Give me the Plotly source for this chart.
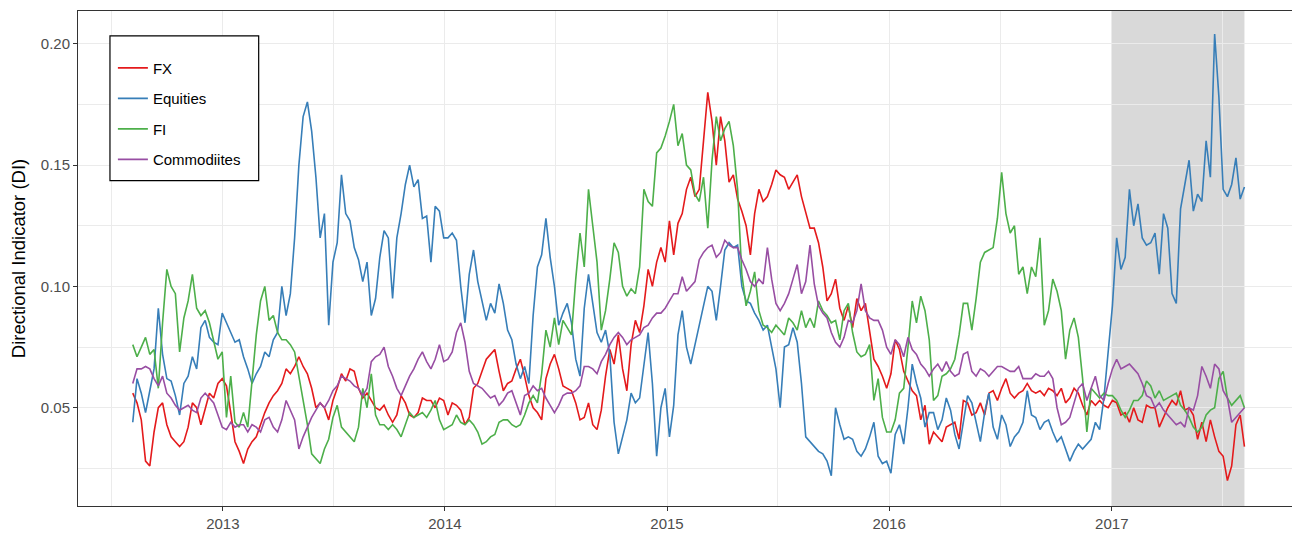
import pandas as pd
import plotly.graph_objects as go

# weekly observations, first week 2012-08-06
START = "2012-08-06"
SHADE_START = "2017-01-01"

fx = [
    0.056, 0.052, 0.045, 0.028, 0.026, 0.040, 0.050, 0.052, 0.043, 0.038, 0.036, 0.034, 0.036, 0.042, 0.052, 0.050,
    0.043, 0.050, 0.056, 0.054, 0.060, 0.062, 0.059, 0.048, 0.036, 0.032, 0.027, 0.033, 0.036, 0.038, 0.043, 0.048,
    0.052, 0.055, 0.057, 0.060, 0.066, 0.064, 0.067, 0.071, 0.067, 0.064, 0.058, 0.050,
    0.052, 0.050, 0.045, 0.053, 0.058, 0.064, 0.061, 0.066, 0.065, 0.058, 0.054, 0.056, 0.053, 0.050, 0.049, 0.051,
    0.047, 0.044, 0.047, 0.055, 0.052, 0.047, 0.046, 0.048, 0.054, 0.053, 0.053, 0.050, 0.054, 0.053,
    0.047, 0.052, 0.051, 0.049, 0.043, 0.046, 0.058, 0.060, 0.065, 0.070, 0.072, 0.074, 0.065, 0.057, 0.060, 0.061,
    0.066, 0.070, 0.063, 0.055, 0.050, 0.048, 0.045, 0.062, 0.068, 0.072, 0.066, 0.059, 0.058,
    0.057, 0.052, 0.045, 0.046, 0.052, 0.043, 0.041, 0.049, 0.063, 0.074, 0.068, 0.080, 0.066, 0.057, 0.076, 0.086,
    0.081, 0.092, 0.107, 0.100, 0.110, 0.116, 0.110, 0.127, 0.113, 0.126, 0.130, 0.140,
    0.145, 0.137, 0.140, 0.160, 0.180, 0.168, 0.150, 0.170, 0.160, 0.143, 0.146, 0.136, 0.131, 0.125, 0.113, 0.130,
    0.140, 0.135, 0.137, 0.142, 0.148, 0.146, 0.145, 0.140, 0.143, 0.146, 0.137, 0.131, 0.124,
    0.124, 0.118, 0.108, 0.094, 0.097, 0.103, 0.091, 0.086, 0.092, 0.083, 0.095, 0.090, 0.093, 0.081, 0.070, 0.067,
    0.063, 0.058, 0.064, 0.078, 0.074, 0.065, 0.061, 0.057, 0.055, 0.045, 0.051, 0.035, 0.040,
    0.038, 0.036, 0.042, 0.043, 0.044, 0.037, 0.053, 0.052, 0.047, 0.048, 0.052, 0.047, 0.056, 0.057, 0.053, 0.058,
    0.062, 0.056, 0.054, 0.056, 0.057, 0.060, 0.057, 0.056, 0.057, 0.055, 0.058, 0.057,
    0.055, 0.058, 0.052, 0.054, 0.058, 0.056, 0.051, 0.047, 0.053, 0.051, 0.053, 0.051, 0.050, 0.053, 0.052, 0.047,
    0.048, 0.044, 0.050, 0.045, 0.044, 0.051, 0.050, 0.050, 0.042, 0.046, 0.050, 0.053, 0.051,
    0.057, 0.049, 0.050, 0.047, 0.037, 0.044, 0.036, 0.045, 0.038, 0.032, 0.030, 0.020, 0.026, 0.043, 0.047, 0.034,
]

equities = [
    0.044, 0.062, 0.056, 0.048, 0.057, 0.066, 0.091, 0.072, 0.062, 0.061, 0.055, 0.047, 0.060, 0.063, 0.071, 0.066,
    0.083, 0.086, 0.079, 0.077, 0.076, 0.089, 0.085, 0.081, 0.077, 0.078, 0.071, 0.066, 0.060, 0.064, 0.067, 0.073,
    0.071, 0.078, 0.081, 0.100, 0.088, 0.097, 0.120, 0.150, 0.170, 0.176, 0.164, 0.145, 0.120,
    0.130, 0.084, 0.110, 0.118, 0.146, 0.130, 0.127, 0.116, 0.111, 0.102, 0.110, 0.088, 0.095, 0.112, 0.123, 0.120,
    0.095, 0.120, 0.130, 0.142, 0.150, 0.141, 0.144, 0.128, 0.129, 0.110, 0.133, 0.131, 0.120,
    0.120, 0.122, 0.119, 0.100, 0.085, 0.105, 0.115, 0.102, 0.094, 0.086, 0.093, 0.089, 0.101, 0.093, 0.082, 0.078,
    0.068, 0.062, 0.067, 0.060, 0.088, 0.108, 0.113, 0.128, 0.112, 0.100, 0.084, 0.089, 0.093,
    0.085, 0.070, 0.063, 0.091, 0.105, 0.093, 0.081, 0.077, 0.082, 0.072, 0.044, 0.031, 0.038, 0.045, 0.056, 0.052,
    0.054, 0.068, 0.081, 0.060, 0.030, 0.050, 0.058, 0.038, 0.051, 0.080, 0.090, 0.075,
    0.068, 0.076, 0.084, 0.092, 0.100, 0.098, 0.086, 0.100, 0.115, 0.118, 0.116, 0.117, 0.100, 0.094, 0.093, 0.089,
    0.086, 0.082, 0.084, 0.075, 0.066, 0.050, 0.075, 0.076, 0.083, 0.077, 0.060, 0.038, 0.036,
    0.034, 0.032, 0.031, 0.028, 0.022, 0.050, 0.043, 0.037, 0.038, 0.037, 0.032, 0.030, 0.033, 0.038, 0.044, 0.030,
    0.027, 0.028, 0.023, 0.039, 0.043, 0.035, 0.050, 0.068, 0.060, 0.054, 0.042, 0.048, 0.048,
    0.041, 0.045, 0.054, 0.049, 0.039, 0.033, 0.044, 0.055, 0.052, 0.044, 0.036, 0.048, 0.056, 0.042, 0.037, 0.047,
    0.043, 0.034, 0.038, 0.040, 0.044, 0.057, 0.047, 0.046, 0.041, 0.044, 0.045, 0.040,
    0.036, 0.038, 0.033, 0.028, 0.032, 0.035, 0.033, 0.035, 0.037, 0.044, 0.041, 0.054, 0.072, 0.092, 0.120, 0.107,
    0.112, 0.140, 0.125, 0.134, 0.120, 0.117, 0.118, 0.122, 0.105, 0.130, 0.124, 0.097, 0.093,
    0.132, 0.142, 0.152, 0.131, 0.138, 0.135, 0.160, 0.145, 0.204, 0.178, 0.140, 0.137, 0.142, 0.153, 0.136, 0.141,
]

fi = [
    0.076, 0.071, 0.075, 0.079, 0.072, 0.074, 0.058, 0.085, 0.107, 0.100, 0.097, 0.073, 0.087, 0.094, 0.105, 0.091,
    0.088, 0.090, 0.085, 0.078, 0.070, 0.073, 0.046, 0.063, 0.044, 0.042, 0.048, 0.042, 0.062, 0.080, 0.094, 0.100,
    0.086, 0.088, 0.081, 0.078, 0.078, 0.076, 0.073, 0.063, 0.054, 0.043, 0.031, 0.029, 0.027,
    0.033, 0.037, 0.046, 0.051, 0.042, 0.040, 0.038, 0.036, 0.042, 0.058, 0.050, 0.064, 0.047, 0.043, 0.043, 0.041,
    0.043, 0.041, 0.038, 0.043, 0.048, 0.046, 0.047, 0.048, 0.046, 0.049, 0.053, 0.045, 0.041,
    0.042, 0.043, 0.047, 0.044, 0.043, 0.045, 0.043, 0.040, 0.035, 0.036, 0.038, 0.039, 0.044, 0.045, 0.045, 0.043,
    0.042, 0.043, 0.047, 0.052, 0.055, 0.052, 0.064, 0.082, 0.075, 0.087, 0.076, 0.086, 0.083,
    0.080, 0.103, 0.122, 0.108, 0.140, 0.125, 0.110, 0.082, 0.090, 0.103, 0.118, 0.114, 0.100, 0.096, 0.099, 0.097,
    0.108, 0.140, 0.135, 0.133, 0.155, 0.157, 0.162, 0.168, 0.175, 0.158, 0.163, 0.150,
    0.148, 0.138, 0.135, 0.145, 0.124, 0.152, 0.170, 0.160, 0.165, 0.168, 0.158, 0.140, 0.105, 0.092, 0.098, 0.106,
    0.090, 0.084, 0.083, 0.081, 0.084, 0.082, 0.080, 0.087, 0.085, 0.082, 0.090, 0.083, 0.087,
    0.083, 0.094, 0.090, 0.088, 0.085, 0.086, 0.078, 0.090, 0.093, 0.081, 0.073, 0.071, 0.072, 0.076, 0.053, 0.062,
    0.046, 0.040, 0.040, 0.045, 0.056, 0.058, 0.075, 0.094, 0.085, 0.096, 0.090, 0.078, 0.053,
    0.055, 0.063, 0.064, 0.066, 0.070, 0.080, 0.093, 0.093, 0.082, 0.095, 0.110, 0.114, 0.115, 0.116, 0.128, 0.147,
    0.130, 0.122, 0.125, 0.105, 0.108, 0.097, 0.108, 0.104, 0.120, 0.084, 0.090, 0.103,
    0.098, 0.090, 0.070, 0.082, 0.087, 0.079, 0.062, 0.040, 0.058, 0.056, 0.054, 0.056, 0.055, 0.055, 0.053, 0.049,
    0.046, 0.049, 0.053, 0.053, 0.055, 0.061, 0.059, 0.054, 0.057, 0.053, 0.054, 0.055, 0.056,
    0.051, 0.049, 0.046, 0.042, 0.040, 0.042, 0.047, 0.049, 0.050, 0.062, 0.065, 0.054, 0.051, 0.053, 0.055, 0.050,
]

commodities = [
    0.060, 0.066, 0.066, 0.067, 0.066, 0.062, 0.059, 0.063, 0.056, 0.054, 0.051, 0.049, 0.050, 0.051, 0.049, 0.048,
    0.054,
    0.056, 0.054, 0.052, 0.047, 0.042, 0.041, 0.044, 0.042, 0.043, 0.043, 0.040, 0.043, 0.042, 0.040, 0.045, 0.046,
    0.042, 0.040, 0.045, 0.053, 0.049, 0.045, 0.033, 0.038, 0.042, 0.046, 0.049, 0.052,
    0.050, 0.053, 0.057, 0.059, 0.063, 0.062, 0.061, 0.059, 0.058, 0.055, 0.058, 0.069, 0.071, 0.072, 0.075, 0.067,
    0.063, 0.058, 0.055, 0.059, 0.063, 0.066, 0.070, 0.073, 0.069, 0.066, 0.070, 0.076, 0.069,
    0.070, 0.073, 0.081, 0.085, 0.077, 0.065, 0.060, 0.059, 0.058, 0.056, 0.054, 0.055, 0.051, 0.053, 0.056, 0.057,
    0.052, 0.047, 0.055, 0.056, 0.059, 0.057, 0.058, 0.054, 0.051, 0.048, 0.051, 0.055, 0.056,
    0.056, 0.057, 0.059, 0.067, 0.067, 0.066, 0.064, 0.069, 0.072, 0.076, 0.079, 0.081, 0.079, 0.076, 0.078, 0.079,
    0.080, 0.083, 0.084, 0.087, 0.089, 0.089, 0.091, 0.094, 0.097, 0.097, 0.104, 0.098,
    0.100, 0.102, 0.111, 0.114, 0.116, 0.117, 0.112, 0.114, 0.119, 0.117, 0.116, 0.116, 0.111, 0.107, 0.102, 0.100,
    0.103, 0.101, 0.116, 0.103, 0.093, 0.090, 0.093, 0.097, 0.103, 0.109, 0.097, 0.102, 0.117,
    0.101, 0.092, 0.089, 0.087, 0.081, 0.077, 0.075, 0.079, 0.086, 0.085, 0.090, 0.101, 0.090, 0.087, 0.086, 0.086,
    0.082, 0.075, 0.072, 0.078, 0.076, 0.071, 0.079, 0.074, 0.072, 0.068, 0.066, 0.063, 0.066,
    0.068, 0.065, 0.069, 0.065, 0.063, 0.064, 0.072, 0.073, 0.065, 0.063, 0.066, 0.065, 0.063, 0.065, 0.067, 0.067,
    0.066, 0.065, 0.065, 0.067, 0.062, 0.062, 0.062, 0.064, 0.063, 0.063, 0.065, 0.062,
    0.050, 0.043, 0.044, 0.046, 0.052, 0.058, 0.060, 0.053, 0.058, 0.063, 0.055, 0.053, 0.060, 0.066, 0.070, 0.066,
    0.067, 0.068, 0.066, 0.064, 0.060, 0.055, 0.054, 0.050, 0.052, 0.049, 0.047, 0.045, 0.043,
    0.044, 0.042, 0.050, 0.049, 0.055, 0.067, 0.063, 0.058, 0.068, 0.066, 0.057, 0.054, 0.044, 0.046, 0.048, 0.050,
]

SERIES = [
    ("FX", fx, "#E41A1C"),
    ("Equities", equities, "#377EB8"),
    ("FI", fi, "#4DAF4A"),
    ("Commodiites", commodities, "#984EA3"),
]

YEAR_TICKS = ["2013-01-01", "2014-01-01", "2015-01-01", "2016-01-01", "2017-01-01"]
YEAR_LABELS = ["2013", "2014", "2015", "2016", "2017"]
MID_YEARS = ["2012-07-02", "2013-07-02", "2014-07-02", "2015-07-02", "2016-07-02", "2017-07-02"]
Y_TICKS = [0.05, 0.10, 0.15, 0.20]
Y_MINOR = [0.025, 0.075, 0.125, 0.175]

GRID = "#EBEBEB"
BORDER = "#333333"

fig = go.Figure()
last_date = None
for name, vals, color in SERIES:
    dates = pd.date_range(START, periods=len(vals), freq="7D")
    last_date = dates[-1]
    fig.add_trace(go.Scatter(x=dates, y=vals, name=name, mode="lines", legendgroup=name,
        line=dict(color=color, width=1.6)))

# shaded out-of-sample period
fig.add_shape(type="rect", xref="x", yref="paper", x0=SHADE_START, x1=last_date, y0=0, y1=1,
    fillcolor="rgba(0,0,0,0.15)", line=dict(width=0), layer="between")
# legend frame
fig.add_shape(type="rect", xref="paper", yref="paper", x0=0.0262, x1=0.1481, y0=0.6573, y1=0.9499,
    line=dict(color="black", width=1.2), fillcolor="white", layer="above", opacity=1)

# page body adds an 8px offset, so the figure is 8px smaller than the window
fig.update_layout(
    width=1292, height=525,
    margin=dict(l=70, r=1, t=3, b=23),
    paper_bgcolor="white", plot_bgcolor="white",
    font=dict(family="Liberation Sans, Arial, sans-serif", color="black"),
    showlegend=True,
    legend=dict(x=0.0286, y=0.918, xanchor="left", yanchor="top", bgcolor="rgba(0,0,0,0)",
        borderwidth=0, font=dict(size=15, color="black"), tracegroupgap=8, traceorder="grouped"),
    xaxis=dict(type="date", range=["2012-05-08", "2017-11-03"], tickmode="array",
        tickvals=YEAR_TICKS, ticktext=YEAR_LABELS, ticks="outside", ticklen=4, tickcolor=BORDER,
        tickfont=dict(size=15, color="#4D4D4D"), showgrid=True, gridcolor=GRID, gridwidth=1,
        minor=dict(tickmode="array", tickvals=MID_YEARS, showgrid=True, gridcolor=GRID, gridwidth=1, ticks=""),
        showline=True, mirror=True, linecolor=BORDER, linewidth=1, zeroline=False),
    yaxis=dict(range=[0.0095, 0.2135], tickmode="array", tickvals=Y_TICKS,
        ticktext=["0.05", "0.10", "0.15", "0.20"], ticks="outside", ticklen=4, tickcolor=BORDER,
        tickfont=dict(size=15, color="#4D4D4D"), showgrid=True, gridcolor=GRID, gridwidth=1,
        minor=dict(tickmode="array", tickvals=Y_MINOR, showgrid=True, gridcolor=GRID, gridwidth=1, ticks=""),
        showline=True, mirror=True, linecolor=BORDER, linewidth=1, zeroline=False,
        title=dict(text="Directional Indicator (DI)", font=dict(size=18.5, color="black"), standoff=12)),
)

fig.write_html("out.html")
